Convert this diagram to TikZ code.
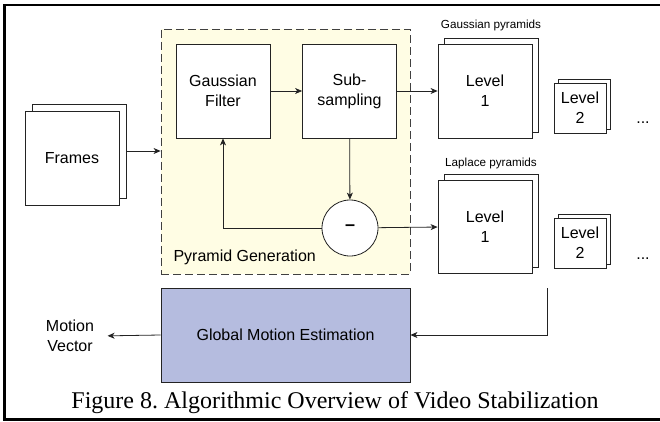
\documentclass[tikz,border=0pt]{standalone}
\usepackage{fontspec}
\setmainfont{Liberation Serif}
\setsansfont{Liberation Sans}
\usetikzlibrary{positioning,arrows.meta,calc}
\definecolor{pyrcolor}{RGB}{255,253,228}
\definecolor{gmecolor}{RGB}{181,188,223}
\definecolor{linecolor}{RGB}{35,35,35}

\begin{document}
\frenchspacing
\begin{tikzpicture}[
    x=1pt, y=-1pt,
    font=\sffamily\fontsize{16}{20}\selectfont,
    block/.style={rectangle, draw=linecolor, line width=0.8pt, fill=white, align=center, minimum width=94pt, minimum height=94pt, inner sep=0pt},
    smallblock/.style={block, minimum width=52pt, minimum height=50pt},
    region/.style={rectangle, draw=black!75, dash pattern=on 8pt off 4pt, line width=0.8pt, fill=pyrcolor, minimum width=249pt, minimum height=245pt, inner sep=0pt},
    estim/.style={rectangle, draw=linecolor, line width=0.8pt, fill=gmecolor, minimum width=249pt, minimum height=94pt},
    minus/.style={circle, draw=linecolor, line width=0.8pt, fill=white, minimum size=56pt, inner sep=0pt, font=\sffamily\bfseries\fontsize{18}{20}\selectfont},
    lbl/.style={font=\sffamily\fontsize{11.7}{14}\selectfont, inner sep=1pt},
    arrow/.style={-{Stealth[length=7pt, width=6pt, inset=2pt]}, draw=linecolor, line width=0.8pt}
]
\useasboundingbox (0,0) rectangle (660,422);
\clip (0,0) rectangle (660,422);

% Outer frame
\draw[line width=2.6pt] (4.5,5) rectangle (680,419.5);

% Input frames
\node[block] (framesback) at (79,151) {};
\node[block] (frames) at (72,158) {Frames};

% Pyramid generation region
\node[region] (pyrgen) at (285.5,151.5) {};
\node[anchor=west] (pyrlabel) at (170,257) {Pyramid Generation};

\node[block] (gauss) at (223,91) {Gaussian\\Filter};
\node[block] (subsamp) at (349.5,91) {Sub-\\sampling};
\node[minus] (diff) at (350,228) {--};

% Gaussian pyramids
\node[block] (gl1back) at (491,85) {};
\node[block] (gl1) at (485,91) {Level\\1};
\node[smallblock] (gl2back) at (584,104) {};
\node[smallblock] (gl2) at (580,108) {Level\\2};
\node (gdots) at (643,123) {...};
\node[lbl, above=5pt of gl1back] (glabel) {Gaussian pyramids};

% Laplace pyramids
\node[block, minimum height=93pt] (ll1back) at (491,220.5) {};
\node[block, minimum height=93pt] (ll1) at (485,226.5) {Level\\1};
\node[smallblock] (ll2back) at (584,239) {};
\node[smallblock] (ll2) at (580,243) {Level\\2};
\node (ldots) at (643,259) {...};
\node[lbl, above=3pt of ll1back] (llabel) {Laplace pyramids};

% Motion estimation
\node[estim] (gme) at (285.5,335) {Global Motion Estimation};
\node[align=center] (mv) at (70,336) {Motion\\Vector};
\coordinate (lapout) at (547,288);

% Arrows
\draw[arrow] (framesback.east) -- (pyrgen.west |- framesback.east);
\draw[arrow] (gauss) -- (subsamp);
\draw[arrow] (subsamp) -- (gl1);
\draw[arrow] (subsamp) -- (diff);
\draw[arrow] (diff) -- (ll1);
\draw[arrow] (diff.west) -| (gauss.south);
\draw[arrow] (lapout) |- (gme.east);
\draw[arrow, shorten >=10pt] (gme.west) -- (mv.east);

% Caption
\node[font=\rmfamily\fontsize{24}{28}\selectfont] (caption) at (335,403) {Figure 8. Algorithmic Overview of Video Stabilization};

\end{tikzpicture}
\end{document}
